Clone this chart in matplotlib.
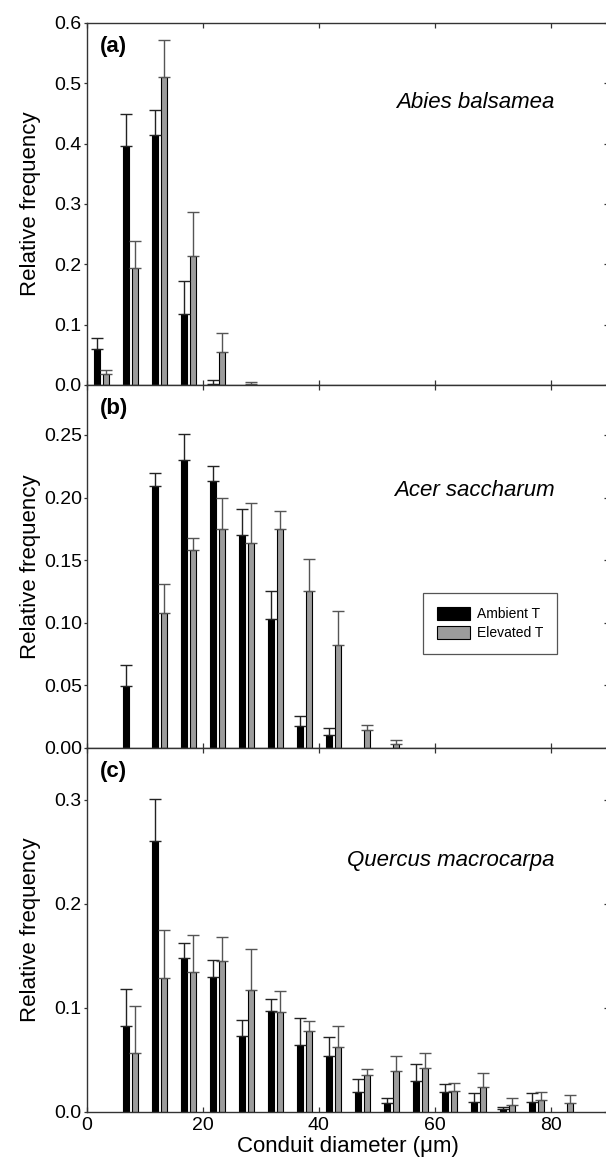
import numpy as np
import matplotlib
matplotlib.use("Agg")
from matplotlib import pyplot as plt
from matplotlib.ticker import FormatStrFormatter

plt.rcParams["font.family"] = ["Liberation Sans", "DejaVu Sans"]

# bin lower edges (um) and relative frequencies (mean, SE)
nan = np.nan

bins_a = [0, 5, 10, 15, 20, 25]
ambient_a = [0.060, 0.396, 0.415, 0.118, 0.002, nan]
ambient_a_se = [0.017, 0.053, 0.040, 0.054, 0.007, nan]
elevated_a = [0.018, 0.194, 0.510, 0.214, 0.055, 0.002]
elevated_a_se = [0.007, 0.045, 0.062, 0.072, 0.031, 0.003]

bins_b = [5, 10, 15, 20, 25, 30, 35, 40, 45, 50]
ambient_b = [0.049, 0.209, 0.230, 0.213, 0.170, 0.103, 0.017, 0.010, nan, nan]
ambient_b_se = [0.017, 0.011, 0.021, 0.012, 0.021, 0.022, 0.008, 0.006, nan, nan]
elevated_b = [nan, 0.108, 0.158, 0.175, 0.164, 0.175, 0.125, 0.082, 0.014, 0.003]
elevated_b_se = [nan, 0.023, 0.010, 0.025, 0.032, 0.014, 0.026, 0.027, 0.004, 0.003]

bins_c = [5, 10, 15, 20, 25, 30, 35, 40, 45, 50, 55, 60, 65, 70, 75, 80]
ambient_c = [0.082, 0.260, 0.148, 0.130, 0.073, 0.097, 0.064, 0.054,
             0.019, 0.008, 0.030, 0.019, 0.009, 0.003, 0.009, nan]
ambient_c_se = [0.036, 0.041, 0.014, 0.016, 0.015, 0.011, 0.026, 0.018,
                0.012, 0.005, 0.016, 0.008, 0.009, 0.002, 0.009, nan]
elevated_c = [0.056, 0.129, 0.134, 0.145, 0.117, 0.096, 0.078, 0.062,
              0.035, 0.039, 0.042, 0.020, 0.024, 0.006, 0.011, 0.008]
elevated_c_se = [0.046, 0.046, 0.036, 0.023, 0.039, 0.020, 0.009, 0.020,
                 0.006, 0.015, 0.014, 0.008, 0.013, 0.007, 0.008, 0.008]

species = ["Abies balsamea", "Acer saccharum", "Quercus macrocarpa"]
letters = ["(a)", "(b)", "(c)"]
series_labels = ["Ambient T", "Elevated T"]

SPINE = "#333333"
GREY = "#9c9c9c"


def draw_bars(ax, bins, vals, se, offset, color, ecolor):
    bins = np.asarray(bins, float)
    vals = np.asarray(vals, float)
    se = np.asarray(se, float)
    ok = ~np.isnan(vals)
    x = bins[ok] + offset
    bars = ax.bar(x, vals[ok], width=1.0, color=color, edgecolor="black",
                  linewidth=0.8, zorder=2)
    ax.errorbar(x, vals[ok], yerr=[np.zeros(ok.sum()), se[ok]], fmt="none",
                ecolor=ecolor, elinewidth=1.0, capsize=4.2, capthick=1.0, zorder=3)
    return bars


def style_axis(ax, ylim, yticks, fmt, show_xlabels):
    ax.set_xlim(0, 90)
    ax.set_ylim(0, ylim)
    ax.set_xticks([0, 20, 40, 60, 80])
    ax.set_yticks(yticks)
    ax.yaxis.set_major_formatter(FormatStrFormatter(fmt))
    for sp in ax.spines.values():
        sp.set_color(SPINE)
        sp.set_linewidth(1.0)
    ax.tick_params(axis="x", direction="in", top=True, bottom=True, length=3.5,
                   width=0.9, color=SPINE, labelsize=14, pad=3.5,
                   labelbottom=show_xlabels)
    ax.tick_params(axis="y", direction="out", left=True, right=False, length=2.5,
                   width=0.9, color=SPINE, labelsize=14, pad=1)
    sec = ax.secondary_yaxis("right")
    sec.set_yticks(yticks)
    sec.tick_params(direction="in", length=3.5, width=0.9, color=SPINE,
                    labelright=False)
    sec.spines["right"].set_color(SPINE)
    ax.set_ylabel("Relative frequency", fontsize=16)
    ax.yaxis.label.set_verticalalignment("center")
    ax.yaxis.set_label_coords(-0.107, 0.5)


fig = plt.figure(figsize=(6.06, 11.63), dpi=100)
left, width = 0.1431, 0.8614
ax_a = fig.add_axes([left, 0.6690, width, 0.3113])
ax_b = fig.add_axes([left, 0.3571, width, 0.3119])
ax_c = fig.add_axes([left, 0.0441, width, 0.3130])

panels = [
    (ax_a, bins_a, ambient_a, ambient_a_se, elevated_a, elevated_a_se,
     0.6, np.arange(0, 0.61, 0.1), "%.1f", 0.779),
    (ax_b, bins_b, ambient_b, ambient_b_se, elevated_b, elevated_b_se,
     0.29, np.arange(0, 0.251, 0.05), "%.2f", 0.708),
    (ax_c, bins_c, ambient_c, ambient_c_se, elevated_c, elevated_c_se,
     0.35, np.arange(0, 0.31, 0.1), "%.1f", 0.689),
]

handles = None
for i, (ax, bins, amb, amb_se, elev, elev_se, ylim, yticks, fmt, sp_y) in enumerate(panels):
    h1 = draw_bars(ax, bins, amb, amb_se, 1.75, "black", "#222222")
    h2 = draw_bars(ax, bins, elev, elev_se, 3.27, GREY, "#555555")
    if handles is None:
        handles = [h1, h2]
    style_axis(ax, ylim, yticks, fmt, show_xlabels=(i == 2))
    ax.text(0.0255, 0.935, letters[i], transform=ax.transAxes, fontsize=16,
            fontweight="bold", ha="left", va="center")
    ax.text(0.897, sp_y, species[i], transform=ax.transAxes, fontsize=16,
            style="italic", ha="right", va="center")

ax_c.set_xlabel("Conduit diameter (\u03bcm)", fontsize=16, labelpad=2)

leg = ax_b.legend(handles, series_labels, loc="upper left",
                  bbox_to_anchor=(0.644, 0.4265), borderaxespad=0, fontsize=10,
                  frameon=True, fancybox=False, framealpha=1, edgecolor="#555555",
                  handlelength=2.4, handleheight=1.05, handletextpad=0.5,
                  labelspacing=0.35, borderpad=1.0)
leg.get_frame().set_linewidth(0.9)

fig.savefig("out.png", dpi=100)
